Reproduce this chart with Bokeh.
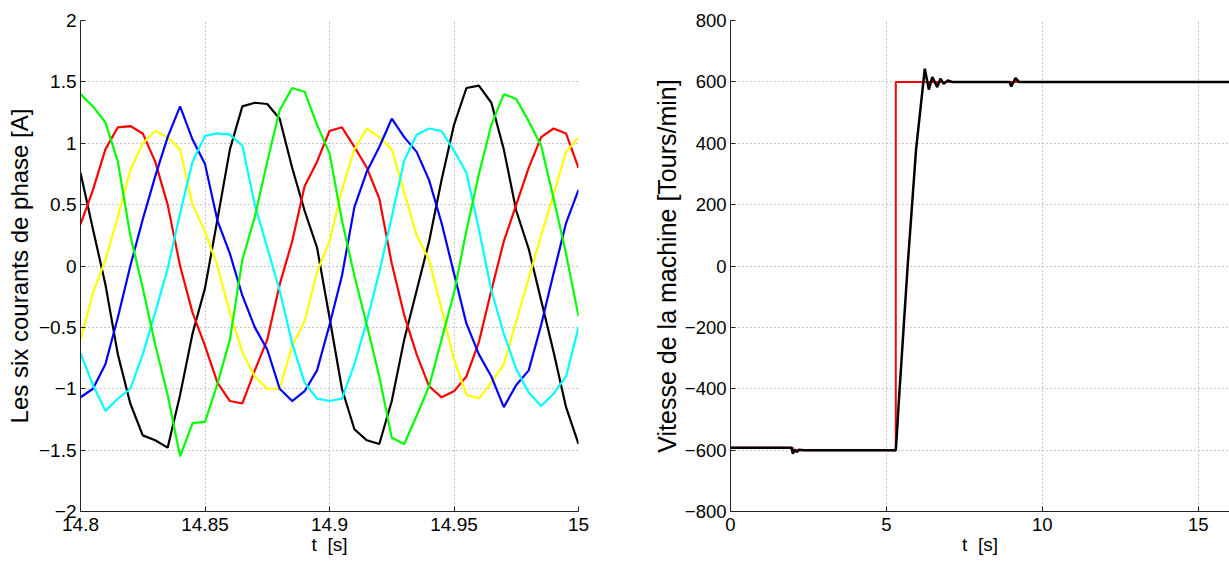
from bokeh.plotting import figure
from bokeh.layouts import row
from bokeh.models import FixedTicker
from bokeh.embed import file_html
from bokeh.resources import INLINE

# ---------------- Left panel: six phase currents ----------------
t_cur = [round(14.8 + 0.005 * i, 3) for i in range(41)]

i_red = [0.34, 0.62, 0.95, 1.13, 1.14, 1.08, 0.85, 0.5, 0.0, -0.38,
         -0.65, -0.95, -1.1, -1.12, -0.85, -0.6, -0.15, 0.2, 0.65, 0.85,
         1.1, 1.13, 0.97, 0.8, 0.55, 0.02, -0.4, -0.72, -0.98, -1.07,
         -1.02, -0.9, -0.62, -0.2, 0.2, 0.5, 0.8, 1.05, 1.12, 1.08, 0.8]
i_yellow = [-0.6, -0.22, 0.05, 0.4, 0.78, 1.0, 1.1, 1.05, 0.95, 0.5,
            0.28, 0.0, -0.38, -0.7, -0.9, -1.0, -1.0, -0.65, -0.45, -0.05,
            0.2, 0.62, 0.95, 1.12, 1.05, 0.95, 0.6, 0.25, 0.05, -0.35,
            -0.76, -1.05, -1.08, -0.95, -0.8, -0.45, -0.1, 0.25, 0.58, 0.93, 1.05]
i_blue = [-1.07, -1.0, -0.8, -0.42, 0.0, 0.38, 0.73, 1.05, 1.3, 1.03,
          0.83, 0.37, 0.1, -0.24, -0.5, -0.68, -1.0, -1.1, -1.02, -0.85,
          -0.48, -0.08, 0.48, 0.77, 0.97, 1.2, 1.05, 0.93, 0.7, 0.35,
          -0.06, -0.47, -0.72, -0.9, -1.15, -0.97, -0.85, -0.48, -0.06, 0.35, 0.62]
i_cyan = [-0.71, -0.97, -1.18, -1.08, -1.0, -0.72, -0.38, -0.02, 0.43, 0.85,
          1.06, 1.08, 1.07, 0.98, 0.5, 0.15, -0.2, -0.63, -0.95, -1.08,
          -1.1, -1.08, -0.8, -0.45, -0.05, 0.4, 0.86, 1.07, 1.12, 1.1,
          0.94, 0.76, 0.3, -0.2, -0.55, -0.84, -1.03, -1.14, -1.04, -0.9, -0.5]
i_black = [0.76, 0.3, -0.15, -0.72, -1.12, -1.38, -1.42, -1.48, -1.05, -0.55,
           -0.18, 0.38, 0.95, 1.3, 1.33, 1.32, 1.2, 0.8, 0.45, 0.15,
           -0.42, -1.0, -1.33, -1.42, -1.45, -1.1, -0.6, -0.2, 0.2, 0.7,
           1.15, 1.45, 1.47, 1.33, 0.95, 0.45, 0.14, -0.28, -0.7, -1.15, -1.45]
i_green = [1.4, 1.3, 1.17, 0.85, 0.25, -0.18, -0.64, -1.05, -1.55, -1.28,
           -1.27, -0.96, -0.6, 0.05, 0.4, 0.85, 1.27, 1.45, 1.42, 1.15,
           0.92, 0.37, -0.08, -0.48, -0.9, -1.4, -1.45, -1.22, -0.98, -0.6,
           -0.22, 0.29, 0.75, 1.15, 1.4, 1.36, 1.18, 0.98, 0.55, 0.1, -0.41]

cur_x_ticks = [14.8, 14.85, 14.9, 14.95, 15]
cur_x_labels = ["14.8", "14.85", "14.9", "14.95", "15"]
cur_y_ticks = [-2, -1.5, -1, -0.5, 0, 0.5, 1, 1.5, 2]
cur_y_labels = ["\u22122", "\u22121.5", "\u22121", "\u22120.5", "0", "0.5", "1", "1.5", "2"]

# ---------------- Right panel: machine speed ----------------
t_ref = [0, 2.0, 2.0, 5.3, 5.3, 16]
w_ref = [-592, -592, -600, -600, 600, 600]

t_spd = [0, 1.95, 2.0, 2.06, 2.12, 2.2, 2.35, 5.3, 5.33, 5.4, 5.68, 5.95,
         6.23, 6.36, 6.47, 6.63, 6.73, 6.84, 6.97, 7.1, 8.95, 9.0, 9.14, 9.25, 16]
w_spd = [-592, -592, -612, -598, -606, -599, -600, -600, -555, -436, 0, 380,
         643, 575, 616, 583, 610, 594, 605, 600, 600, 585, 612, 600, 600]

spd_x_ticks = [0, 5, 10, 15]
spd_y_ticks = [-800, -600, -400, -200, 0, 200, 400, 600, 800]
spd_y_labels = ["\u2212800", "\u2212600", "\u2212400", "\u2212200", "0", "200", "400", "600", "800"]

FONT = "Liberation Sans"
XLAB = "t\u00a0\u00a0[s]"


def style(p, xt, yt, xlab_map, ylab_map, ylabel, ystand, tick_size, ylab_size):
    p.outline_line_color = None
    p.background_fill_color = "white"
    p.border_fill_color = "white"
    p.xaxis.ticker = FixedTicker(ticks=xt)
    p.yaxis.ticker = FixedTicker(ticks=yt)
    if xlab_map:
        p.xaxis.major_label_overrides = xlab_map
    p.yaxis.major_label_overrides = ylab_map
    for ax in (p.xaxis[0], p.yaxis[0]):
        ax.axis_line_color = "#222222"
        ax.axis_line_width = 1
        ax.major_tick_in = 5
        ax.major_tick_out = 0
        ax.minor_tick_line_color = None
        ax.major_tick_line_color = "#222222"
        ax.major_label_text_font = FONT
        ax.major_label_text_font_size = tick_size
        ax.major_label_text_color = "black"
        ax.axis_label_text_font = FONT
        ax.axis_label_text_font_style = "normal"
        ax.axis_label_text_color = "black"
    p.xaxis.axis_label = XLAB
    p.xaxis.axis_label_text_font_size = "19px"
    p.xaxis.major_label_standoff = 6
    p.xaxis.axis_label_standoff = 0
    p.yaxis.axis_label = ylabel
    p.yaxis.axis_label_text_font_size = ylab_size
    p.yaxis.major_label_standoff = 4
    p.yaxis.axis_label_standoff = ystand
    for g in (p.xgrid[0], p.ygrid[0]):
        g.grid_line_color = "#909090"
        g.grid_line_dash = "1 3"
        g.grid_line_width = 1


# the page body has no margin in Bokeh's template: frames at x 80-578 and 730-1229, y 20-511
p1 = figure(width=608, height=561, x_range=(14.8, 15), y_range=(-2, 2),
            output_backend="svg", toolbar_location=None,
            min_border_left=80, min_border_right=30, min_border_top=20, min_border_bottom=50)
style(p1, cur_x_ticks, cur_y_ticks,
      dict(zip(cur_x_ticks, cur_x_labels)), dict(zip(cur_y_ticks, cur_y_labels)),
      "Les six courants de phase [A]", 3, "19px", "24px")

for ys, col in [(i_black, "#000000"), (i_red, "#ff0000"), (i_yellow, "#ffff00"),
                (i_blue, "#0000ff"), (i_cyan, "#00ffff"), (i_green, "#00ff00")]:
    p1.line(t_cur, ys, line_color=col, line_width=2.2)

p2 = figure(width=621, height=561, x_range=(0, 16), y_range=(-800, 800),
            output_backend="svg", toolbar_location=None,
            min_border_left=122, min_border_right=0, min_border_top=20, min_border_bottom=50)
style(p2, spd_x_ticks, spd_y_ticks, None, dict(zip(spd_y_ticks, spd_y_labels)),
      "Vitesse de la machine [Tours/min]", 1, "18.5px", "25px")
p2.line(t_ref, w_ref, line_color="#ff0000", line_width=2)
p2.line(t_spd, w_spd, line_color="#000000", line_width=2.5)

layout = row(p1, p2)
open("out.html", "w").write(file_html(layout, INLINE))
